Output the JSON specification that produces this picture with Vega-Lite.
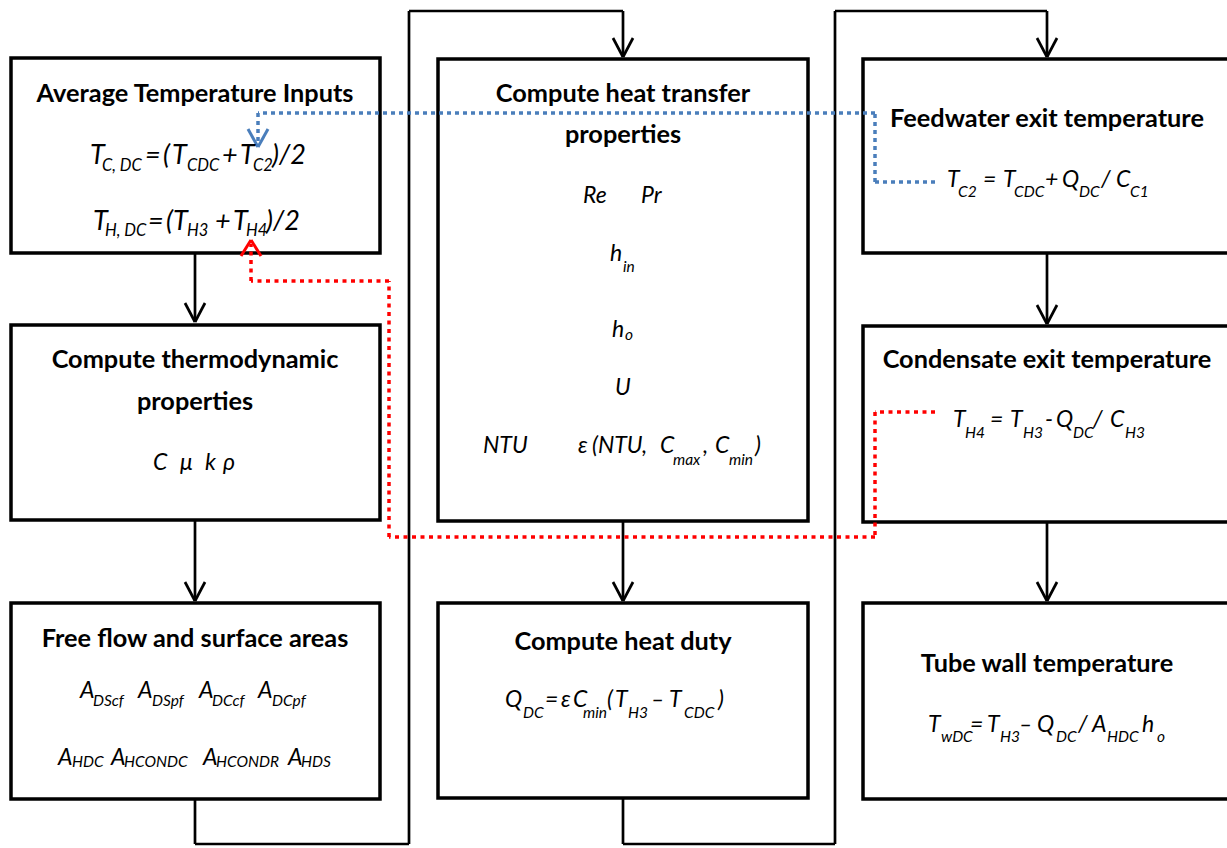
{
  "$schema": "https://vega.github.io/schema/vega-lite/v6.json",
  "autosize": {"type": "fit", "contains": "padding"},
  "width": 1227,
  "height": 848,
  "padding": 0,
  "background": "white",
  "view": {"stroke": null},
  "datasets": {
    "boxes": [
      {"box": "A", "x1": 11, "x2": 380, "y1": 58, "y2": 253},
      {"box": "B", "x1": 11, "x2": 380, "y1": 325, "y2": 520},
      {"box": "C", "x1": 11, "x2": 380, "y1": 603, "y2": 799},
      {"box": "D", "x1": 438, "x2": 808, "y1": 59, "y2": 521},
      {"box": "E", "x1": 438, "x2": 808, "y1": 603, "y2": 798},
      {"box": "F", "x1": 863, "x2": 1245, "y1": 59, "y2": 253},
      {"box": "G", "x1": 863, "x2": 1245, "y1": 326, "y2": 522},
      {"box": "H", "x1": 863, "x2": 1245, "y1": 603, "y2": 799}
    ],
    "segs": [
      {"kind": "black", "x1": 195, "y1": 253, "x2": 195, "y2": 322},
      {"kind": "black", "x1": 185, "y1": 303, "x2": 195, "y2": 322},
      {"kind": "black", "x1": 205, "y1": 303, "x2": 195, "y2": 322},
      {"kind": "black", "x1": 195, "y1": 520, "x2": 195, "y2": 601},
      {"kind": "black", "x1": 185, "y1": 582, "x2": 195, "y2": 601},
      {"kind": "black", "x1": 205, "y1": 582, "x2": 195, "y2": 601},
      {"kind": "black", "x1": 623, "y1": 521, "x2": 623, "y2": 601},
      {"kind": "black", "x1": 613, "y1": 582, "x2": 623, "y2": 601},
      {"kind": "black", "x1": 633, "y1": 582, "x2": 623, "y2": 601},
      {"kind": "black", "x1": 1047, "y1": 253, "x2": 1047, "y2": 324},
      {"kind": "black", "x1": 1037, "y1": 305, "x2": 1047, "y2": 324},
      {"kind": "black", "x1": 1057, "y1": 305, "x2": 1047, "y2": 324},
      {"kind": "black", "x1": 1047, "y1": 522, "x2": 1047, "y2": 601},
      {"kind": "black", "x1": 1037, "y1": 582, "x2": 1047, "y2": 601},
      {"kind": "black", "x1": 1057, "y1": 582, "x2": 1047, "y2": 601},
      {"kind": "black", "x1": 195, "y1": 799, "x2": 195, "y2": 844},
      {"kind": "black", "x1": 195, "y1": 844, "x2": 409, "y2": 844},
      {"kind": "black", "x1": 409, "y1": 844, "x2": 409, "y2": 11},
      {"kind": "black", "x1": 409, "y1": 11, "x2": 623, "y2": 11},
      {"kind": "black", "x1": 623, "y1": 11, "x2": 623, "y2": 57},
      {"kind": "black", "x1": 613, "y1": 38, "x2": 623, "y2": 57},
      {"kind": "black", "x1": 633, "y1": 38, "x2": 623, "y2": 57},
      {"kind": "black", "x1": 623, "y1": 798, "x2": 623, "y2": 844},
      {"kind": "black", "x1": 623, "y1": 844, "x2": 835, "y2": 844},
      {"kind": "black", "x1": 835, "y1": 844, "x2": 835, "y2": 11},
      {"kind": "black", "x1": 835, "y1": 11, "x2": 1047, "y2": 11},
      {"kind": "black", "x1": 1047, "y1": 11, "x2": 1047, "y2": 57},
      {"kind": "black", "x1": 1037, "y1": 38, "x2": 1047, "y2": 57},
      {"kind": "black", "x1": 1057, "y1": 38, "x2": 1047, "y2": 57},
      {"kind": "blueDot", "x1": 935, "y1": 182, "x2": 875, "y2": 182},
      {"kind": "blueDot", "x1": 875, "y1": 182, "x2": 875, "y2": 113},
      {"kind": "blueDot", "x1": 875, "y1": 113, "x2": 258, "y2": 113},
      {"kind": "blueDot", "x1": 258, "y1": 113, "x2": 258, "y2": 143},
      {"kind": "blue", "x1": 248, "y1": 129, "x2": 258, "y2": 147},
      {"kind": "blue", "x1": 268, "y1": 129, "x2": 258, "y2": 147},
      {"kind": "redDot", "x1": 935, "y1": 412, "x2": 875, "y2": 412},
      {"kind": "redDot", "x1": 875, "y1": 412, "x2": 875, "y2": 537},
      {"kind": "redDot", "x1": 875, "y1": 537, "x2": 389, "y2": 537},
      {"kind": "redDot", "x1": 389, "y1": 537, "x2": 389, "y2": 281},
      {"kind": "redDot", "x1": 389, "y1": 281, "x2": 251, "y2": 281},
      {"kind": "redDot", "x1": 251, "y1": 281, "x2": 251, "y2": 244},
      {"kind": "red", "x1": 241, "y1": 256, "x2": 251, "y2": 240},
      {"kind": "red", "x1": 261, "y1": 256, "x2": 251, "y2": 240}
    ],
    "titles": [
      {"text": "Average Temperature Inputs", "x": 195, "y": 102},
      {"text": "Compute thermodynamic", "x": 195, "y": 368},
      {"text": "properties", "x": 195, "y": 410},
      {"text": "Free flow and surface areas", "x": 195, "y": 647},
      {"text": "Compute heat transfer", "x": 623, "y": 102},
      {"text": "properties", "x": 623, "y": 143},
      {"text": "Compute heat duty", "x": 623, "y": 650},
      {"text": "Feedwater exit temperature", "x": 1047, "y": 127},
      {"text": "Condensate exit temperature", "x": 1047, "y": 368},
      {"text": "Tube wall temperature", "x": 1047, "y": 672}
    ],
    "terms": [
      {"kind": "symL", "text": "T", "x": 90, "y": 164},
      {"kind": "subL", "text": "C, DC", "x": 102, "y": 171},
      {"kind": "symL", "text": "=", "x": 145, "y": 164},
      {"kind": "symL", "text": "(", "x": 163, "y": 164},
      {"kind": "symL", "text": "T", "x": 172, "y": 164},
      {"kind": "subL", "text": "CDC", "x": 187, "y": 171},
      {"kind": "symL", "text": "+", "x": 222, "y": 164},
      {"kind": "symL", "text": "T", "x": 240, "y": 164},
      {"kind": "subL", "text": "C2", "x": 253, "y": 171},
      {"kind": "symL", "text": ")/2", "x": 272, "y": 164},
      {"kind": "symL", "text": "T", "x": 93, "y": 230},
      {"kind": "subL", "text": "H, DC", "x": 105, "y": 236},
      {"kind": "symL", "text": "=", "x": 148, "y": 230},
      {"kind": "symL", "text": "(", "x": 166, "y": 230},
      {"kind": "symL", "text": "T", "x": 173, "y": 230},
      {"kind": "subL", "text": "H3", "x": 187, "y": 236},
      {"kind": "symL", "text": "+", "x": 215, "y": 230},
      {"kind": "symL", "text": "T", "x": 233, "y": 230},
      {"kind": "subL", "text": "H4", "x": 246, "y": 236},
      {"kind": "symL", "text": ")/2", "x": 266, "y": 230},
      {"kind": "sym", "text": "C", "x": 153, "y": 470},
      {"kind": "sym", "text": "μ", "x": 180, "y": 470},
      {"kind": "sym", "text": "k", "x": 205, "y": 470},
      {"kind": "sym", "text": "ρ", "x": 223, "y": 470},
      {"kind": "sym", "text": "A", "x": 80, "y": 698},
      {"kind": "sub", "text": "DScf", "x": 93, "y": 706},
      {"kind": "sym", "text": "A", "x": 138, "y": 698},
      {"kind": "sub", "text": "DSpf", "x": 152, "y": 706},
      {"kind": "sym", "text": "A", "x": 199, "y": 698},
      {"kind": "sub", "text": "DCcf", "x": 212, "y": 706},
      {"kind": "sym", "text": "A", "x": 258, "y": 698},
      {"kind": "sub", "text": "DCpf", "x": 272, "y": 706},
      {"kind": "sym", "text": "A", "x": 58, "y": 765},
      {"kind": "sub", "text": "HDC", "x": 72, "y": 767},
      {"kind": "sym", "text": "A", "x": 111, "y": 765},
      {"kind": "sub", "text": "HCONDC", "x": 124, "y": 767},
      {"kind": "sym", "text": "A", "x": 203, "y": 765},
      {"kind": "sub", "text": "HCONDR", "x": 216, "y": 767},
      {"kind": "sym", "text": "A", "x": 288, "y": 765},
      {"kind": "sub", "text": "HDS", "x": 301, "y": 767},
      {"kind": "sym", "text": "Re", "x": 583, "y": 203},
      {"kind": "sym", "text": "Pr", "x": 641, "y": 203},
      {"kind": "sym", "text": "h", "x": 610, "y": 261},
      {"kind": "sub", "text": "in", "x": 623, "y": 272},
      {"kind": "sym", "text": "h", "x": 612, "y": 337},
      {"kind": "sub", "text": "o", "x": 625, "y": 340},
      {"kind": "sym", "text": "U", "x": 615, "y": 395},
      {"kind": "sym", "text": "NTU", "x": 483, "y": 453},
      {"kind": "sym", "text": "ε", "x": 578, "y": 453},
      {"kind": "sym", "text": "(NTU,", "x": 592, "y": 453},
      {"kind": "sym", "text": "C", "x": 660, "y": 453},
      {"kind": "sub", "text": "max", "x": 673, "y": 465},
      {"kind": "sym", "text": ",", "x": 703, "y": 453},
      {"kind": "sym", "text": "C", "x": 715, "y": 453},
      {"kind": "sub", "text": "min", "x": 729, "y": 465},
      {"kind": "sym", "text": ")", "x": 755, "y": 453},
      {"kind": "sym", "text": "Q", "x": 505, "y": 707},
      {"kind": "sub", "text": "DC", "x": 523, "y": 718},
      {"kind": "sym", "text": "=", "x": 545, "y": 707},
      {"kind": "sym", "text": "ε", "x": 561, "y": 707},
      {"kind": "sym", "text": "C", "x": 573, "y": 707},
      {"kind": "sub", "text": "min", "x": 583, "y": 718},
      {"kind": "sym", "text": "(", "x": 607, "y": 707},
      {"kind": "sym", "text": "T", "x": 615, "y": 707},
      {"kind": "sub", "text": "H3", "x": 628, "y": 718},
      {"kind": "sym", "text": "–", "x": 651, "y": 707},
      {"kind": "sym", "text": "T", "x": 669, "y": 707},
      {"kind": "sub", "text": "CDC", "x": 684, "y": 718},
      {"kind": "sym", "text": ")", "x": 718, "y": 707},
      {"kind": "sym", "text": "T", "x": 947, "y": 187},
      {"kind": "sub", "text": "C2", "x": 958, "y": 197},
      {"kind": "sym", "text": "=", "x": 983, "y": 187},
      {"kind": "sym", "text": "T", "x": 1003, "y": 187},
      {"kind": "sub", "text": "CDC", "x": 1014, "y": 197},
      {"kind": "sym", "text": "+", "x": 1045, "y": 187},
      {"kind": "sym", "text": "Q", "x": 1062, "y": 187},
      {"kind": "sub", "text": "DC", "x": 1079, "y": 197},
      {"kind": "sym", "text": "/", "x": 1101, "y": 187},
      {"kind": "sym", "text": "C", "x": 1116, "y": 187},
      {"kind": "sub", "text": "C1", "x": 1130, "y": 197},
      {"kind": "sym", "text": "T", "x": 953, "y": 427},
      {"kind": "sub", "text": "H4", "x": 965, "y": 438},
      {"kind": "sym", "text": "=", "x": 990, "y": 427},
      {"kind": "sym", "text": "T", "x": 1010, "y": 427},
      {"kind": "sub", "text": "H3", "x": 1023, "y": 438},
      {"kind": "sym", "text": "-", "x": 1045, "y": 427},
      {"kind": "sym", "text": "Q", "x": 1056, "y": 427},
      {"kind": "sub", "text": "DC", "x": 1073, "y": 438},
      {"kind": "sym", "text": "/", "x": 1093, "y": 427},
      {"kind": "sym", "text": "C", "x": 1110, "y": 427},
      {"kind": "sub", "text": "H3", "x": 1125, "y": 438},
      {"kind": "sym", "text": "T", "x": 928, "y": 732},
      {"kind": "sub", "text": "wDC", "x": 941, "y": 742},
      {"kind": "sym", "text": "=", "x": 970, "y": 732},
      {"kind": "sym", "text": "T", "x": 987, "y": 732},
      {"kind": "sub", "text": "H3", "x": 1000, "y": 742},
      {"kind": "sym", "text": "–", "x": 1019, "y": 732},
      {"kind": "sym", "text": "Q", "x": 1037, "y": 732},
      {"kind": "sub", "text": "DC", "x": 1056, "y": 742},
      {"kind": "sym", "text": "/", "x": 1078, "y": 732},
      {"kind": "sym", "text": "A", "x": 1092, "y": 732},
      {"kind": "sub", "text": "HDC", "x": 1107, "y": 742},
      {"kind": "sym", "text": "h", "x": 1142, "y": 732},
      {"kind": "sub", "text": "o", "x": 1157, "y": 742}
    ]
  },
  "layer": [
    {
      "data": {"name": "boxes"},
      "mark": {"type": "rect", "fill": "white", "stroke": "black", "strokeWidth": 3.5, "clip": true},
      "encoding": {
        "x": {"field": "x1", "type": "quantitative", "scale": {"domain": [0, 1227], "nice": false, "zero": false}, "axis": null},
        "x2": {"field": "x2"},
        "y": {"field": "y1", "type": "quantitative", "scale": {"domain": [0, 848], "nice": false, "zero": false, "reverse": true}, "axis": null},
        "y2": {"field": "y2"}
      }
    },
    {
      "data": {"name": "segs"},
      "transform": [{"filter": "datum.kind === 'black'"}],
      "mark": {"type": "rule", "color": "black", "strokeWidth": 2.7},
      "encoding": {
        "x": {"field": "x1", "type": "quantitative"},
        "x2": {"field": "x2"},
        "y": {"field": "y1", "type": "quantitative"},
        "y2": {"field": "y2"}
      }
    },
    {
      "data": {"name": "segs"},
      "transform": [{"filter": "datum.kind === 'blueDot'"}],
      "mark": {"type": "rule", "color": "#4a7ebb", "strokeWidth": 3.5, "strokeDash": [4, 4]},
      "encoding": {
        "x": {"field": "x1", "type": "quantitative"},
        "x2": {"field": "x2"},
        "y": {"field": "y1", "type": "quantitative"},
        "y2": {"field": "y2"}
      }
    },
    {
      "data": {"name": "segs"},
      "transform": [{"filter": "datum.kind === 'blue'"}],
      "mark": {"type": "rule", "color": "#4a7ebb", "strokeWidth": 3},
      "encoding": {
        "x": {"field": "x1", "type": "quantitative"},
        "x2": {"field": "x2"},
        "y": {"field": "y1", "type": "quantitative"},
        "y2": {"field": "y2"}
      }
    },
    {
      "data": {"name": "segs"},
      "transform": [{"filter": "datum.kind === 'redDot'"}],
      "mark": {"type": "rule", "color": "#ff0000", "strokeWidth": 3.5, "strokeDash": [4, 4.5]},
      "encoding": {
        "x": {"field": "x1", "type": "quantitative"},
        "x2": {"field": "x2"},
        "y": {"field": "y1", "type": "quantitative"},
        "y2": {"field": "y2"}
      }
    },
    {
      "data": {"name": "segs"},
      "transform": [{"filter": "datum.kind === 'red'"}],
      "mark": {"type": "rule", "color": "#ff0000", "strokeWidth": 3},
      "encoding": {
        "x": {"field": "x1", "type": "quantitative"},
        "x2": {"field": "x2"},
        "y": {"field": "y1", "type": "quantitative"},
        "y2": {"field": "y2"}
      }
    },
    {
      "data": {"name": "titles"},
      "mark": {"type": "text", "font": "Lato", "fontWeight": "bold", "fontSize": 25.3, "align": "center", "baseline": "alphabetic", "color": "black"},
      "encoding": {
        "x": {"field": "x", "type": "quantitative"},
        "y": {"field": "y", "type": "quantitative"},
        "text": {"field": "text"}
      }
    },
    {
      "data": {"name": "terms"},
      "transform": [{"filter": "datum.kind === 'symL'"}],
      "mark": {"type": "text", "font": "Lato", "fontStyle": "italic", "fontSize": 27, "align": "left", "baseline": "alphabetic", "color": "black"},
      "encoding": {
        "x": {"field": "x", "type": "quantitative"},
        "y": {"field": "y", "type": "quantitative"},
        "text": {"field": "text"}
      }
    },
    {
      "data": {"name": "terms"},
      "transform": [{"filter": "datum.kind === 'subL'"}],
      "mark": {"type": "text", "font": "Lato", "fontStyle": "italic", "fontSize": 16.5, "align": "left", "baseline": "alphabetic", "color": "black"},
      "encoding": {
        "x": {"field": "x", "type": "quantitative"},
        "y": {"field": "y", "type": "quantitative"},
        "text": {"field": "text"}
      }
    },
    {
      "data": {"name": "terms"},
      "transform": [{"filter": "datum.kind === 'sym'"}],
      "mark": {"type": "text", "font": "Lato", "fontStyle": "italic", "fontSize": 23, "align": "left", "baseline": "alphabetic", "color": "black"},
      "encoding": {
        "x": {"field": "x", "type": "quantitative"},
        "y": {"field": "y", "type": "quantitative"},
        "text": {"field": "text"}
      }
    },
    {
      "data": {"name": "terms"},
      "transform": [{"filter": "datum.kind === 'sub'"}],
      "mark": {"type": "text", "font": "Lato", "fontStyle": "italic", "fontSize": 15.5, "align": "left", "baseline": "alphabetic", "color": "black"},
      "encoding": {
        "x": {"field": "x", "type": "quantitative"},
        "y": {"field": "y", "type": "quantitative"},
        "text": {"field": "text"}
      }
    }
  ]
}
